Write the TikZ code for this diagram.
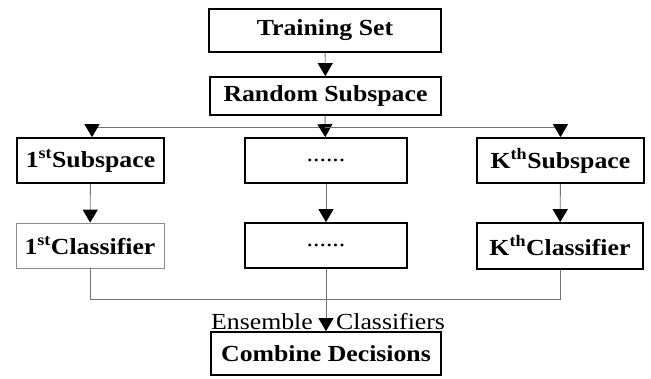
\documentclass[tikz,border=0pt]{standalone}
\usepackage{fontspec}
\setmainfont{Liberation Serif}[FakeStretch=1.12]
\usetikzlibrary{arrows.meta,calc}
\begin{document}
\begin{tikzpicture}[x=1pt,y=-1pt,
  box/.style={draw=black,line width=1.7pt,fill=white,inner sep=0pt,font=\fontsize{23}{27}\selectfont\bfseries},
  lightbox/.style={draw=black!45,line width=0.8pt,fill=white,inner sep=0pt,font=\fontsize{23}{27}\selectfont\bfseries},
  conn/.style={draw=black!55,line width=0.9pt},
  arr/.style={conn,-{Triangle[width=15pt,length=13pt,color=black]}},
  lab/.style={font=\fontsize{23}{27}\selectfont,inner sep=0pt}]
\useasboundingbox (0,0) rectangle (651,379);
\fill[white] (0,0) rectangle (651,379);
\newcommand{\bx}[6]{\node[#1,minimum width=#4pt,minimum height=#5pt] (#2) at (#3) {#6};}
\bx{box}{train}{325,30.5}{232}{43}{Training Set}
\bx{box}{random}{325.5,96}{231}{38}{Random Subspace}
\bx{box}{subA}{90.5,160.5}{147}{45}{1\textsuperscript{st}Subspace}
\bx{box}{subM}{326,160.5}{162}{45}{\mdseries ......}
\bx{box}{subK}{560.5,160.5}{167}{45}{K\textsuperscript{th}Subspace}
\bx{lightbox}{clsA}{90,245.5}{148}{45}{1\textsuperscript{st}Classifier}
\bx{box}{clsM}{326,245.5}{162}{45}{\mdseries ......}
\bx{box}{clsK}{560,246}{166}{46}{K\textsuperscript{th}Classifier}
\bx{box}{comb}{326,353.5}{230}{43}{Combine Decisions}
\coordinate (busA) at (325,127);
\coordinate (busB) at (326,299);
\draw[arr] (train) -- (random);
\draw[conn] (random) -- (busA);
\draw[arr] (busA) -| ([xshift=1.5pt]subA.north);
\draw[arr] (busA) -- (subM);
\draw[arr] (busA) -| (subK.north);
\draw[arr] (subA) -- (clsA);
\draw[arr] (subM) -- (clsM);
\draw[arr] (subK) -- (clsK);
\draw[conn] (clsA) |- (busB);
\draw[conn] (clsK.south) |- (busB);
\draw[arr] (clsM) -- (comb);
\node[lab,anchor=east] (ens) at (313,322) {Ensemble};
\node[lab,anchor=west] (cls) at (336,322) {Classifiers};
\end{tikzpicture}
\end{document}
